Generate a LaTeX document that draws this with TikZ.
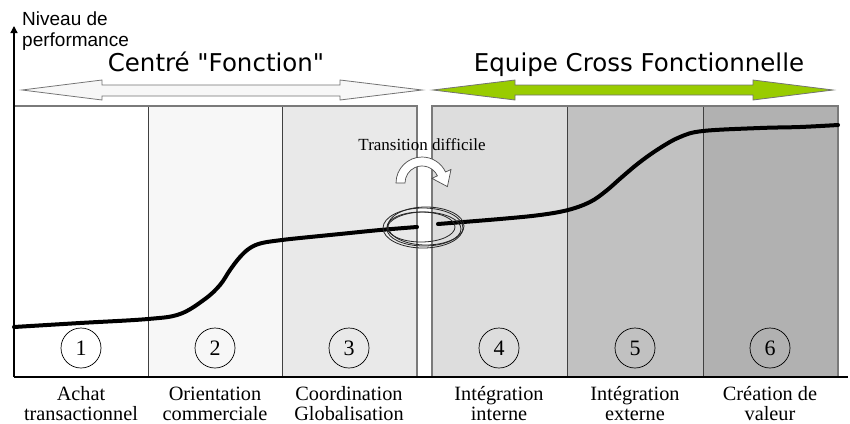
\documentclass[tikz,border=0pt]{standalone}
\usepackage{fontspec}
\setmainfont{Liberation Serif}
\newfontfamily\arialf{Liberation Sans}
\newfontfamily\comicf{DejaVu Sans}
\usetikzlibrary{arrows.meta}
\definecolor{pA}{HTML}{FFFFFF}
\definecolor{pB}{HTML}{F7F7F7}
\definecolor{pC}{HTML}{E9E9E9}
\definecolor{pD}{HTML}{DDDDDD}
\definecolor{pE}{HTML}{C1C1C1}
\definecolor{pF}{HTML}{B1B1B1}
\definecolor{limeg}{HTML}{99CC00}
\definecolor{bordg}{HTML}{7A7A7A}
\tikzset{
  divider/.style={draw=black!75,line width=0.7pt},
  panelborder/.style={draw=bordg,line width=1.4pt},
  numcirc/.style={circle,draw=black,line width=0.7pt,minimum size=40pt,inner sep=0pt,font=\fontsize{22}{22}\selectfont},
  botlabel/.style={anchor=base,inner sep=0pt,font=\fontsize{20.3}{20}\selectfont},
  perf/.style={line width=4pt,black,line cap=round},
  ringline/.style={draw=black!85,line width=0.8pt},
  bigtitle/.style={anchor=base,inner sep=0pt,font=\comicf\fontsize{24.5}{24}\selectfont},
  axislabel/.style={anchor=base west,inner sep=0pt,font=\arialf\fontsize{19}{19}\selectfont}
}
\begin{document}
\begin{tikzpicture}[x=1pt,y=-1pt]
\useasboundingbox[fill=white] (0,0) rectangle (850,423);
% panels
\fill[pA] (14,106) rectangle (148,377);
\fill[pB] (148,106) rectangle (282,377);
\fill[pC] (282,106) rectangle (417,377);
\fill[pD] (432,106) rectangle (567,377);
\fill[pE] (567,106) rectangle (703,377);
\fill[pF] (703,106) rectangle (838,377);
\draw[divider] (148,106) -- (148,377);
\draw[divider] (282,106) -- (282,377);
\draw[divider] (567,106) -- (567,377);
\draw[divider] (703,106) -- (703,377);
\draw[panelborder] (14,106) -- (417,106) -- (417,377);
\draw[panelborder] (432,377) -- (432,106) -- (838,106) -- (838,377);
% axes
\coordinate (origin) at (14,377);
\coordinate (ytop) at (14,26);
\coordinate (xend) at (848,377);
\draw[line width=1.3pt,-{Triangle[length=7pt,width=7pt]}] (origin) -- (ytop);
\draw[line width=1.3pt] (origin) -- (xend);
\node[axislabel] (niv1) at (22,25) {Niveau de};
\node[axislabel] (niv2) at (22,46) {performance};
% top arrows
\draw[draw=black!55,fill=black!3,line width=0.8pt]
  (22,90) -- (102,80) -- (102,85) -- (340,85) -- (340,80) -- (422,90)
  -- (340,100) -- (340,96) -- (102,96) -- (102,100) -- cycle;
\draw[draw=black!55,fill=limeg,line width=0.8pt]
  (433,90) -- (515,80) -- (515,85) -- (753,85) -- (753,80) -- (833,90)
  -- (753,100) -- (753,95) -- (515,95) -- (515,100) -- cycle;
\node[bigtitle] (t1) at (216,71) {Centré "Fonction"};
\node[bigtitle] (t2) at (639,71) {Equipe Cross Fonctionnelle};
% performance curve
\draw[perf] plot[smooth,tension=0.6] coordinates {(14,327) (80,323) (148,319) (180,314) (205,299) (220,285) (230,270) (240,257) (250,248) (262,243) (282,240) (300,238) (340,234) (380,230) (417,227)};
\draw[perf] plot[smooth,tension=0.6] coordinates {(438,224) (500,219) (540,215) (568,210) (590,202) (606,191) (622,177) (640,162) (660,148) (680,137) (703,131) (760,128) (800,127) (838,125)};
% transition
\node[inner sep=0pt,font=\fontsize{17}{17}\selectfont] (trans) at (422,145) {Transition difficile};
\draw[draw=black!70,fill=white,line width=0.7pt]
  (396,183) arc[start angle=180,end angle=335,radius=26] -- (451,169.5) -- (447.4,186.6)
  -- (432,178.4) -- (437.4,175.8) arc[start angle=335,end angle=180,radius=17] -- cycle;
\draw[ringline] (423,228) ellipse[x radius=40,y radius=20];
\draw[ringline] (424,229) ellipse[x radius=37,y radius=17];
\draw[ringline] (421,227) ellipse[x radius=34,y radius=15];
\draw[ringline] (426,226) ellipse[x radius=38,y radius=19];
% numbers and labels
\foreach \i/\x/\la/\lb in {1/81/Achat/transactionnel,2/215/Orientation/commerciale,3/349/Coordination/Globalisation,4/499/Intégration/interne,5/635/Intégration/externe,6/770/Création de/valeur}{
  \node[numcirc] (c\i) at (\x,348) {\i};
  \node[botlabel] (la\i) at (\x,400) {\la};
  \node[botlabel] (lb\i) at (\x,420) {\lb};
}
\end{tikzpicture}
\end{document}
